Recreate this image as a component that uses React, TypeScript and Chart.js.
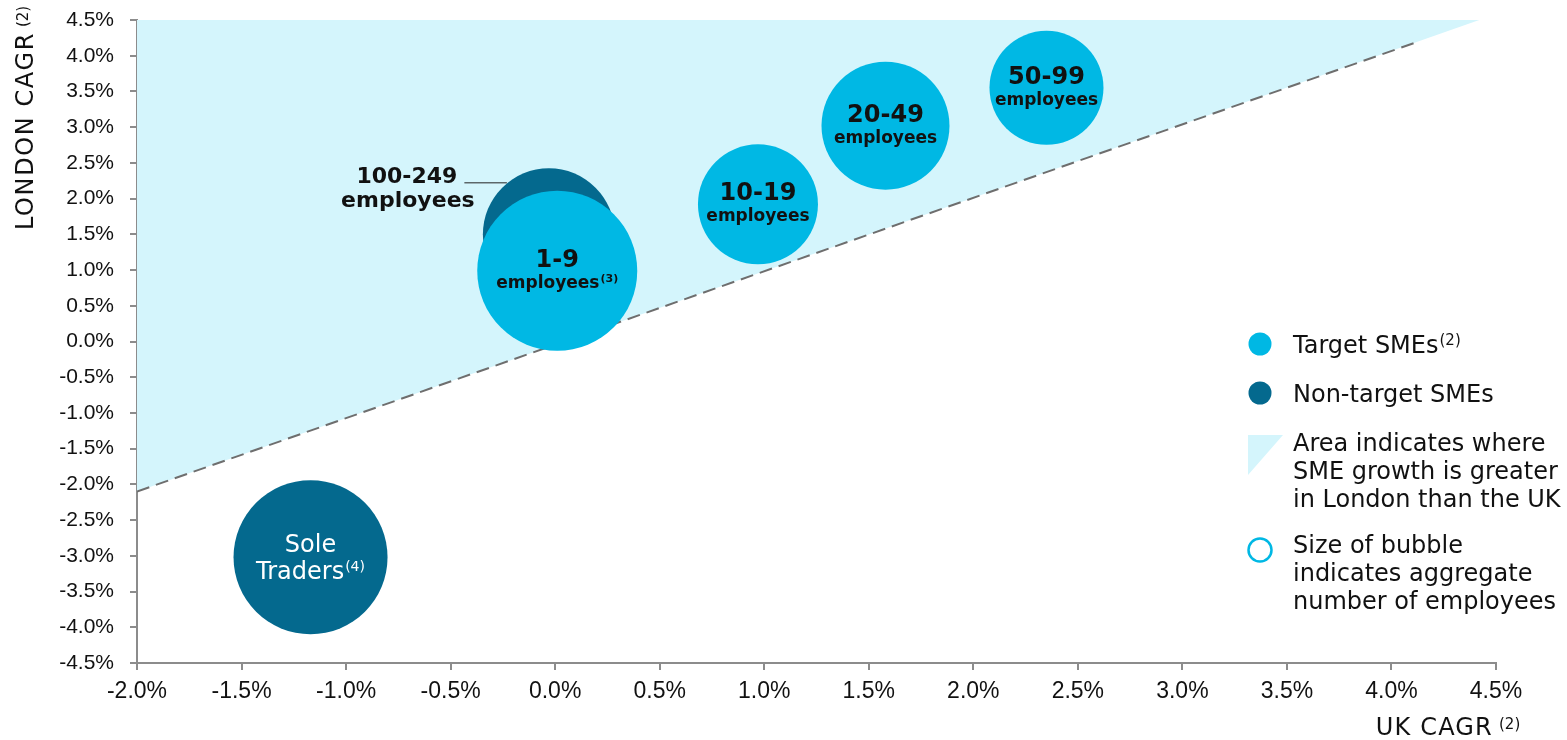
import React, { useEffect, useRef } from 'react';
import { Chart, registerables } from 'chart.js';

Chart.register(...registerables);

// ---------- DATA ----------
const targetTitles = ['1-9', '10-19', '20-49', '50-99'];
const targetSubtitles = ['employees', 'employees', 'employees', 'employees'];
const targetNotes = ['(3)', '', '', ''];
const targetUkCagr = [0.01, 0.97, 1.58, 2.35];
const targetLondonCagr = [0.99, 1.92, 3.02, 3.55];
const targetBubbleSize = [80, 60, 64, 57];

const nonTargetTitles = ['Sole', '100-249'];
const nonTargetSubtitles = ['Traders', 'employees'];
const nonTargetNotes = ['(4)', ''];
const nonTargetUkCagr = [-1.17, -0.03];
const nonTargetLondonCagr = [-3.02, 1.5];
const nonTargetBubbleSize = [77, 66];

// boundary where London growth equals UK growth (shaded above)
const parityUk = [-2.0, 4.42];
const parityLondon = [-2.1, 4.5];
// dashed trend line
const trendUk = [-2.0, 4.12];
const trendLondon = [-2.1, 4.19];

const legendLabels = ['Target SMEs', 'Non-target SMEs'];
const legendNotes = ['(2)', ''];
const areaLegendLines = ['Area indicates where', 'SME growth is greater', 'in London than the UK'];
const sizeLegendLines = ['Size of bubble', 'indicates aggregate', 'number of employees'];
const xTitle = 'UK CAGR';
const yTitle = 'LONDON CAGR';
const axisNote = '(2)';

// ---------- STYLE ----------
const CYAN = '#00B8E4';
const DARK = '#04698E';
const SHADE = '#D4F5FC';
const AXIS = '#8C8C8C';
const FONT = '"DejaVu Sans", sans-serif';
const TICK_FONT = '"Liberation Sans", Arial, sans-serif';

const fmtPct = (v: number) => {
  const n = Math.abs(v) < 1e-9 ? 0 : v;
  return n.toFixed(1) + '%';
};

function drawWithSup(
  ctx: CanvasRenderingContext2D,
  main: string,
  sup: string,
  cx: number,
  baseline: number,
  mainFont: string,
  supFont: string,
  rise: number,
  color: string,
  align: 'center' | 'left' = 'center'
) {
  ctx.save();
  ctx.fillStyle = color;
  ctx.textBaseline = 'alphabetic';
  ctx.textAlign = 'left';
  ctx.font = mainFont;
  const w1 = ctx.measureText(main).width;
  ctx.font = supFont;
  const w2 = sup ? ctx.measureText(sup).width + 1 : 0;
  const start = align === 'center' ? cx - (w1 + w2) / 2 : cx;
  ctx.font = mainFont;
  ctx.fillText(main, start, baseline);
  if (sup) {
    ctx.font = supFont;
    ctx.fillText(sup, start + w1 + 1, baseline - rise);
  }
  ctx.restore();
}

const overlayPlugin = {
  id: 'overlay',
  afterDatasetsDraw(chart: any) {
    const ctx: CanvasRenderingContext2D = chart.ctx;
    const tMeta = chart.getDatasetMeta(0);
    const nMeta = chart.getDatasetMeta(1);

    // target bubble labels
    tMeta.data.forEach((el: any, i: number) => {
      const { x, y } = el;
      drawWithSup(ctx, targetTitles[i], '', x, y - 4, `bold 24px ${FONT}`, `bold 11px ${FONT}`, 0, '#111');
      drawWithSup(ctx, targetSubtitles[i], targetNotes[i], x, y + 17, `bold 17px ${FONT}`, `bold 11px ${FONT}`, 6, '#111');
    });

    // sole traders (inside, white)
    const s = nMeta.data[0];
    drawWithSup(ctx, nonTargetTitles[0], '', s.x, s.y - 5, `24px ${FONT}`, `14px ${FONT}`, 0, '#ffffff');
    drawWithSup(ctx, nonTargetSubtitles[0], nonTargetNotes[0], s.x, s.y + 22, `24px ${FONT}`, `14px ${FONT}`, 8, '#ffffff');

    // 100-249 (outside label with leader line)
    const b = nMeta.data[1];
    const lx = b.x - 142;
    drawWithSup(ctx, nonTargetTitles[1], '', lx, b.y - 51, `bold 22px ${FONT}`, `bold 11px ${FONT}`, 0, '#111');
    drawWithSup(ctx, nonTargetSubtitles[1], '', lx + 1, b.y - 27, `bold 22px ${FONT}`, `bold 11px ${FONT}`, 0, '#111');
    ctx.save();
    ctx.font = `bold 22px ${FONT}`;
    const w = ctx.measureText(nonTargetTitles[1]).width;
    ctx.strokeStyle = '#222';
    ctx.lineWidth = 1;
    ctx.beginPath();
    ctx.moveTo(lx + w / 2 + 7, b.y - 51.5);
    ctx.lineTo(b.x - 42, b.y - 51.5);
    ctx.stroke();
    ctx.restore();
  },
  afterDraw(chart: any) {
    const ctx: CanvasRenderingContext2D = chart.ctx;
    const area = chart.chartArea;

    // y axis title (rotated)
    ctx.save();
    ctx.translate(33, 230);
    ctx.rotate(-Math.PI / 2);
    ctx.fillStyle = '#111';
    ctx.textAlign = 'left';
    ctx.textBaseline = 'alphabetic';
    ctx.font = `24px ${FONT}`;
    (ctx as any).letterSpacing = '1.6px';
    ctx.fillText(yTitle, 0, 0);
    const yw = ctx.measureText(yTitle).width;
    (ctx as any).letterSpacing = '0px';
    ctx.font = `15px ${FONT}`;
    ctx.fillText(axisNote, yw + 5, -5);
    ctx.restore();

    // x axis title
    ctx.save();
    ctx.fillStyle = '#111';
    ctx.textAlign = 'left';
    ctx.textBaseline = 'alphabetic';
    ctx.font = `24px ${FONT}`;
    (ctx as any).letterSpacing = '1.2px';
    const xw = ctx.measureText(xTitle).width;
    const xStart = area.right + 27 - 23 - 7 - xw;
    ctx.fillText(xTitle, xStart, 735);
    (ctx as any).letterSpacing = '0px';
    ctx.font = `15px ${FONT}`;
    ctx.fillText(axisNote, xStart + xw + 6, 729);
    ctx.restore();

    // legend
    const mx = area.right - 236;
    const tx = area.right - 203;
    ctx.save();
    ctx.fillStyle = CYAN;
    ctx.beginPath();
    ctx.arc(mx, 344, 11.5, 0, Math.PI * 2);
    ctx.fill();
    ctx.fillStyle = DARK;
    ctx.beginPath();
    ctx.arc(mx, 393, 11.5, 0, Math.PI * 2);
    ctx.fill();
    ctx.fillStyle = SHADE;
    ctx.beginPath();
    ctx.moveTo(mx - 12, 435);
    ctx.lineTo(mx + 23, 435);
    ctx.lineTo(mx - 12, 475);
    ctx.closePath();
    ctx.fill();
    ctx.strokeStyle = CYAN;
    ctx.lineWidth = 2.5;
    ctx.beginPath();
    ctx.arc(mx, 550, 11.5, 0, Math.PI * 2);
    ctx.stroke();
    ctx.restore();

    drawWithSup(ctx, legendLabels[0], legendNotes[0], tx, 353, `24px ${FONT}`, `15px ${FONT}`, 8, '#111', 'left');
    drawWithSup(ctx, legendLabels[1], legendNotes[1], tx, 402, `24px ${FONT}`, `15px ${FONT}`, 8, '#111', 'left');
    areaLegendLines.forEach((t, i) => {
      drawWithSup(ctx, t, '', tx, 451 + i * 28, `24px ${FONT}`, `15px ${FONT}`, 0, '#111', 'left');
    });
    sizeLegendLines.forEach((t, i) => {
      drawWithSup(ctx, t, '', tx, 553 + i * 28, `24px ${FONT}`, `15px ${FONT}`, 0, '#111', 'left');
    });
  },
};

export default function App() {
  const canvasRef = useRef<HTMLCanvasElement | null>(null);

  useEffect(() => {
    if (!canvasRef.current) return;
    document.body.style.margin = '0';

    const targetData = targetUkCagr.map((x, i) => ({ x, y: targetLondonCagr[i], r: targetBubbleSize[i] }));
    const nonTargetData = nonTargetUkCagr.map((x, i) => ({ x, y: nonTargetLondonCagr[i], r: nonTargetBubbleSize[i] }));
    const parityData = parityUk.map((x, i) => ({ x, y: parityLondon[i] }));
    const trendData = trendUk.map((x, i) => ({ x, y: trendLondon[i] }));

    const chart = new Chart(canvasRef.current, {
      type: 'bubble',
      data: {
        datasets: [
          {
            label: 'Target SMEs',
            data: targetData,
            backgroundColor: CYAN,
            borderWidth: 0,
            order: 0,
            clip: false,
          } as any,
          {
            label: 'Non-target SMEs',
            data: nonTargetData,
            backgroundColor: DARK,
            borderWidth: 0,
            order: 1,
            clip: false,
          } as any,
          {
            type: 'line',
            label: 'Trend',
            data: trendData,
            borderColor: '#6E6E6E',
            borderWidth: 2,
            borderDash: [13, 7],
            pointRadius: 0,
            fill: false,
            order: 2,
          } as any,
          {
            type: 'line',
            label: 'Area',
            data: parityData,
            borderWidth: 0,
            borderColor: 'rgba(0,0,0,0)',
            backgroundColor: SHADE,
            pointRadius: 0,
            fill: 'end',
            order: 3,
          } as any,
        ],
      },
      options: {
        responsive: false,
        animation: false,
        events: [],
        layout: { autoPadding: false, padding: { left: 0, top: 20, right: 71, bottom: 0 } },
        plugins: {
          legend: { display: false },
          tooltip: { enabled: false },
        },
        scales: {
          x: {
            type: 'linear',
            min: -2,
            max: 4.5,
            ticks: {
              stepSize: 0.5,
              callback: (v: any) => fmtPct(Number(v)),
              font: { family: TICK_FONT, size: 23 },
              color: '#111',
              padding: 8,
              maxRotation: 0,
              autoSkip: false,
            },
            grid: { drawOnChartArea: false, drawTicks: true, tickLength: 7, color: AXIS, lineWidth: 2 },
            border: { color: AXIS, width: 2 },
            afterFit: (s: any) => {
              s.height = 77;
              s.paddingLeft = 0;
              s.paddingRight = 0;
            },
          },
          y: {
            type: 'linear',
            min: -4.5,
            max: 4.5,
            ticks: {
              stepSize: 0.5,
              callback: (v: any) => fmtPct(Number(v)),
              font: { family: TICK_FONT, size: 21 },
              color: '#111',
              padding: 16,
              autoSkip: false,
            },
            grid: { drawOnChartArea: false, drawTicks: true, tickLength: 7, color: AXIS, lineWidth: 2 },
            border: { color: AXIS, width: 2 },
            afterFit: (s: any) => {
              s.width = 137;
              s.paddingTop = 0;
              s.paddingBottom = 0;
            },
          },
        },
      } as any,
      plugins: [overlayPlugin],
    });

    return () => chart.destroy();
  }, []);

  return (
    <div style={{ position: 'absolute', left: 0, top: 0, width: 1567, height: 740, background: '#fff' }}>
      <canvas ref={canvasRef} width={1567} height={740} />
    </div>
  );
}
